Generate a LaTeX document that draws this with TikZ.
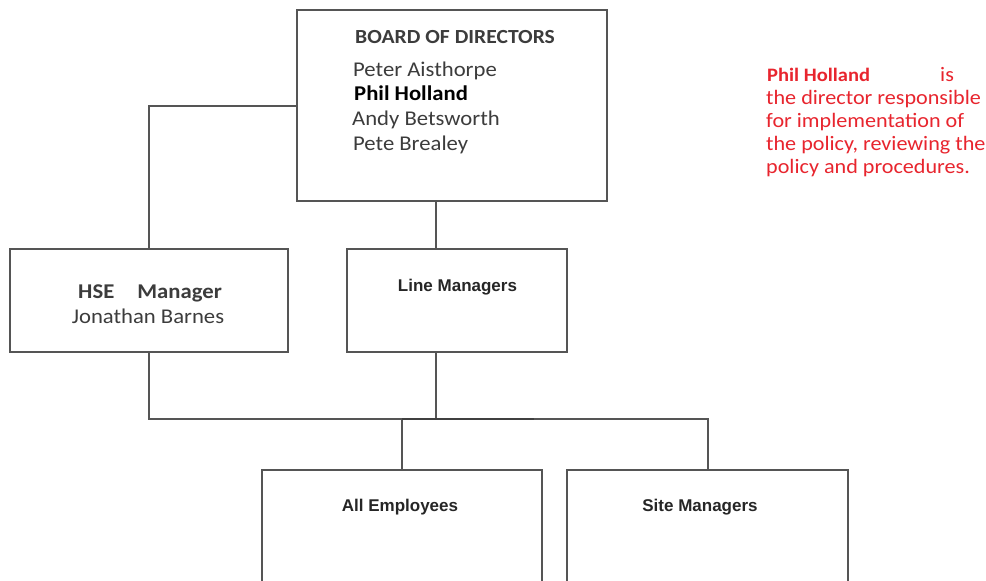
\documentclass[tikz,border=0pt]{standalone}
\usepackage{fontspec}
\setmainfont{Carlito}[FakeStretch=1.08]
\newfontfamily\arialf{Liberation Sans}
\definecolor{boxline}{HTML}{555555}
\definecolor{txtgray}{HTML}{3C3C3C}
\definecolor{redtxt}{HTML}{E8252E}
\begin{document}
\begin{tikzpicture}[x=1pt,y=-1pt,
  box/.style={draw=boxline,line width=2pt,rectangle,inner sep=0pt},
  conn/.style={draw=boxline,line width=2pt},
  txt/.style={inner sep=0pt,anchor=base west,font=\fontsize{21}{24}\selectfont,text=txtgray},
  arl/.style={inner sep=0pt,anchor=center,font=\arialf\bfseries\fontsize{17}{20}\selectfont,text=black!85},
  redline/.style={inner sep=0pt,anchor=base west,font=\fontsize{20.5}{23}\selectfont,text=redtxt}]
\useasboundingbox (0,0) rectangle (986,581);
\clip (0,0) rectangle (986,581);
\fill[white] (0,0) rectangle (986,581);
% boxes
\node[box,minimum width=310pt,minimum height=191pt] (board) at (452,105.5) {};
\node[box,minimum width=278pt,minimum height=103pt] (hse) at (149,300.5) {};
\node[box,minimum width=220pt,minimum height=103pt] (lm) at (457,300.5) {};
\node[box,minimum width=280pt,minimum height=160pt] (emp) at (402,550) {};
\node[box,minimum width=281pt,minimum height=160pt] (site) at (707.5,550) {};
% helper coordinates
\coordinate (mx) at (436,0);
\coordinate (bus) at (0,419);
\coordinate (dk) at (534,0);
% connectors
\draw[conn] (board.west) -| (hse.north);
\draw[conn] (board.south -| mx) -- (lm.north -| mx);
\draw[conn] (hse.south) |- (bus -| mx) -- (lm.south -| mx);
\draw[conn] (emp.north) -- (emp.north |- bus) -| (site.north);
\draw[draw=black!75,line width=2.4pt] (emp.north |- bus) -- (bus -| dk);
% board text
\node[txt,font=\bfseries\fontsize{20}{24}\selectfont] (bt) at (355,43) {BOARD OF DIRECTORS};
\node[txt] (n1) at (353,76) {Peter Aisthorpe};
\node[txt,text=black,font=\bfseries\fontsize{21}{24}\selectfont] (n2) at (354,100) {Phil Holland};
\node[txt] (n3) at (352,125) {Andy Betsworth};
\node[txt] (n4) at (353,150) {Pete Brealey};
% hse text
\node[txt,anchor=base,font=\bfseries\fontsize{21}{24}\selectfont] (h1) at (150,298) {HSE\hspace{1.1em}Manager};
\node[txt,anchor=base] (h2) at (148,323) {Jonathan Barnes};
% arial labels
\node[arl] (l1) at (457.5,287) {Line Managers};
\node[arl] (l2) at (400,507) {All Employees};
\node[arl] (l3) at (700,507) {Site Managers};
% red note
\node[redline,font=\bfseries\fontsize{19}{23}\selectfont] (r0) at (767,81) {Phil Holland};
\node[redline] (r0b) at (940,81) {is};
\node[redline] (r1) at (766,104) {the director responsible};
\node[redline] (r2) at (766,127) {for implementation of};
\node[redline] (r3) at (766,150) {the policy, reviewing the};
\node[redline] (r4) at (766,173) {policy and procedures.};
\end{tikzpicture}
\end{document}
